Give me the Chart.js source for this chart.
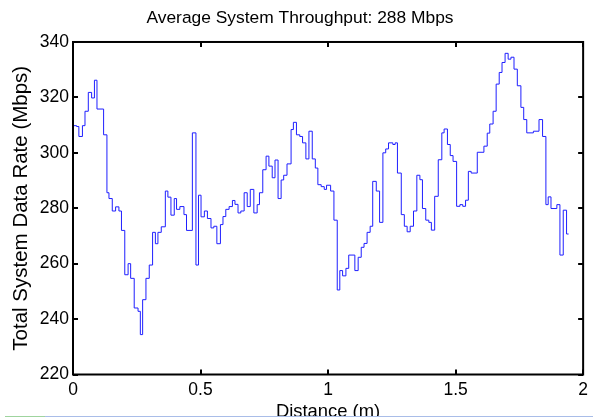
<!DOCTYPE html>
<html>
<head>
<meta charset="utf-8">
<script src="https://cdn.jsdelivr.net/npm/chart.js@4.4.1/dist/chart.umd.min.js"></script>
<style>
  html, body { margin: 0; padding: 0; background: #fff; }
  #wrap { width: 593px; height: 417px; }
</style>
</head>
<body>
<div id="wrap"><canvas id="rateChart" width="593" height="417"></canvas></div>
<script>
// step start positions (m), last entry is where the trace ends
const distance = [0, 0.014, 0.023, 0.037, 0.047, 0.060, 0.073, 0.084, 0.094, 0.120,
  0.133, 0.141, 0.154, 0.167, 0.180, 0.190, 0.203, 0.216, 0.226, 0.240, 0.255,
  0.264, 0.273, 0.286, 0.299, 0.312, 0.323, 0.333, 0.346, 0.362, 0.372, 0.384,
  0.397, 0.406, 0.419, 0.435, 0.445, 0.468, 0.482, 0.492,
  0.502, 0.515, 0.527, 0.541, 0.552, 0.564, 0.578, 0.588, 0.599, 0.612, 0.625,
  0.635, 0.647, 0.658, 0.671, 0.683, 0.695, 0.709, 0.722, 0.731, 0.744,
  0.757, 0.768, 0.781, 0.792, 0.804, 0.816, 0.826, 0.839, 0.855, 0.864, 0.876,
  0.889, 0.900, 0.913, 0.925, 0.938, 0.950, 0.960, 0.973, 0.985, 0.994,
  1.010, 1.023, 1.036, 1.046, 1.057, 1.070, 1.081, 1.105, 1.118, 1.130, 1.141,
  1.153, 1.165, 1.175, 1.189, 1.202, 1.215, 1.226, 1.237,
  1.254, 1.263, 1.272, 1.287, 1.299, 1.310, 1.322, 1.335, 1.348, 1.360, 1.370,
  1.383, 1.395, 1.405, 1.418, 1.432, 1.446, 1.455, 1.468, 1.479, 1.490,
  1.504, 1.517, 1.528, 1.539, 1.550, 1.561, 1.585, 1.611, 1.624, 1.634, 1.647,
  1.659, 1.671, 1.682, 1.694, 1.706, 1.717, 1.729, 1.742,
  1.756, 1.767, 1.779, 1.805, 1.827, 1.841, 1.854, 1.863, 1.874, 1.897, 1.909,
  1.922, 1.935, 1.943];

// total system data rate (Mbps) for each step
const rate = [309.8, 309.5, 305.9, 309.8, 315, 321.8, 319.8, 326.2, 315.8,
  306.5, 285.6, 283.5, 279, 280.5, 279, 272, 256, 260, 254.7, 244, 242.8,
  234.4, 247, 254.7, 259.5, 271.3, 267.2, 271.3, 273.3, 286.2, 284, 277.5,
  283.5, 279.6, 280.6, 277.7, 272, 307.2, 259.5, 284.7,
  276.9, 279, 276.3, 272.9, 273.5, 267.2, 274.1, 277, 279.6, 280.6, 282.8,
  281.4, 278.3, 279, 285.6, 280.6, 286.8, 278.3, 281.3, 285.6, 293.9,
  298.8, 295.2, 291, 297.4, 283.5, 290.2, 291.9, 296, 308.4, 311, 306.5,
  305.9, 303.6, 297.8, 307.8, 297.8, 294.5, 288.5, 287.8, 286.8, 288.3,
  286.2, 275.7, 250.5, 257.5, 255.6, 258.3, 263.1, 257.5, 262.3, 265.9, 267.3,
  271.3, 273.5, 289.7, 286.2, 274.9, 300, 301.4, 303.6,
  303, 303.6, 292.7, 277.7, 273.5, 271.5, 273.5, 279, 291.9, 290.3, 279.9,
  275.7, 274.9, 272.1, 284.3, 297.5, 307.2, 308.6, 303, 299, 296.9,
  280.7, 281.3, 280.7, 282.9, 293.3, 292.7, 300.2, 302.4, 307.1, 310.4, 315,
  324.8, 329, 332.6, 335.9, 333.8, 334.5, 330.2, 324.2,
  316.4, 312, 307.2, 307.8, 312, 305.9, 281.3, 284.1, 279.9, 281.3, 263.1,
  279.3, 270.7, 270.7];

const xTicks = [0, 0.5, 1, 1.5, 2];
const yTicks = [220, 240, 260, 280, 300, 320, 340];

const FONT = "'Liberation Sans', Arial, Helvetica, sans-serif";

// MATLAB style box with inward ticks on all four sides, plus the strip at the bottom edge
const axesBox = {
  id: "axesBox",
  afterDraw(chart) {
    const { ctx, chartArea: a, scales } = chart;
    const tick = 5;
    ctx.save();
    ctx.strokeStyle = "#000";
    ctx.lineWidth = 2;
    ctx.strokeRect(a.left, a.top, a.right - a.left, a.bottom - a.top);
    ctx.beginPath();
    xTicks.forEach((v) => {
      const px = Math.round(scales.x.getPixelForValue(v));
      ctx.moveTo(px, a.bottom); ctx.lineTo(px, a.bottom - tick);
      ctx.moveTo(px, a.top); ctx.lineTo(px, a.top + tick);
    });
    yTicks.forEach((v) => {
      const py = Math.round(scales.y.getPixelForValue(v));
      ctx.moveTo(a.left, py); ctx.lineTo(a.left + tick, py);
      ctx.moveTo(a.right, py); ctx.lineTo(a.right - tick, py);
    });
    ctx.stroke();

    ctx.lineWidth = 1;
    ctx.strokeStyle = "#9fd49f";
    ctx.beginPath(); ctx.moveTo(5, 416.5); ctx.lineTo(45, 416.5); ctx.stroke();
    ctx.strokeStyle = "#a9bde8";
    ctx.beginPath(); ctx.moveTo(45, 416.5); ctx.lineTo(593, 416.5); ctx.stroke();
    ctx.restore();
  },
};

const points = distance.map((d, i) => ({ x: d, y: rate[i] }));

new Chart(document.getElementById("rateChart"), {
  type: "line",
  data: {
    datasets: [
      {
        data: points,
        stepped: "before",
        borderColor: "#1f1fff",
        borderWidth: 1,
        pointRadius: 0,
        fill: false,
      },
    ],
  },
  options: {
    responsive: false,
    animation: false,
    events: [],
    layout: { padding: { left: 14, right: 7, top: 0, bottom: 0 } },
    plugins: {
      legend: { display: false },
      tooltip: { enabled: false },
      title: {
        display: true,
        text: "Average System Throughput: 288 Mbps",
        color: "#000",
        font: { family: FONT, size: 17.4, weight: "normal" },
        padding: { top: 8, bottom: 13.1 },
      },
    },
    scales: {
      x: {
        type: "linear",
        min: 0,
        max: 2,
        afterBuildTicks: (s) => { s.ticks = xTicks.map((v) => ({ value: v })); },
        afterFit: (s) => { s.height = 42.5; },
        grid: { display: false, drawTicks: false },
        border: { display: false },
        ticks: {
          color: "#000",
          padding: 5,
          maxRotation: 0,
          font: { family: FONT, size: 17.5 },
          callback: (v) => String(v),
        },
        title: {
          display: true,
          text: "Distance (m)",
          color: "#000",
          font: { family: FONT, size: 18.4, lineHeight: 0.55 },
          padding: 0,
        },
      },
      y: {
        min: 220,
        max: 340,
        afterBuildTicks: (s) => { s.ticks = yTicks.map((v) => ({ value: v })); },
        afterFit: (s) => { s.width = 59; },
        grid: { display: false, drawTicks: false },
        border: { display: false },
        ticks: {
          color: "#000",
          padding: 4,
          font: { family: FONT, size: 17.5 },
        },
        title: {
          display: true,
          text: "Total System Data Rate (Mbps)",
          color: "#000",
          font: { family: FONT, size: 20.5, lineHeight: 0.55 },
          padding: { top: 2, bottom: 0 },
        },
      },
    },
  },
  plugins: [axesBox],
});
</script>
</body>
</html>
